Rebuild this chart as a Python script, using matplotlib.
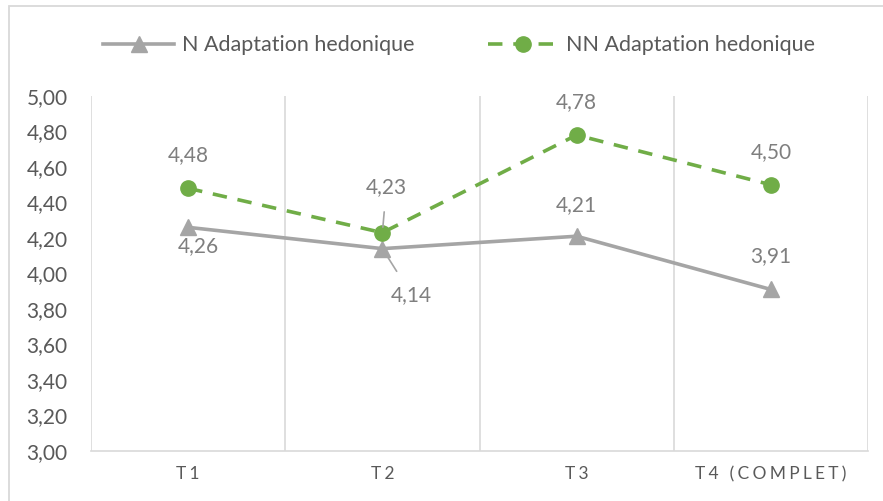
import matplotlib.pyplot as plt
from matplotlib.lines import Line2D
from matplotlib.patches import Rectangle

plt.rcParams['font.family'] = ['Lato', 'DejaVu Sans']

categories = ['T1', 'T2', 'T3', 'T4 (COMPLET)']
n_values = [4.26, 4.14, 4.21, 3.91]
nn_values = [4.48, 4.23, 4.78, 4.50]
y_ticks = [3.0, 3.2, 3.4, 3.6, 3.8, 4.0, 4.2, 4.4, 4.6, 4.8, 5.0]

grey = '#A5A5A5'
green = '#70AD47'
text_col = '#595959'
label_col = '#7F7F7F'
grid_col = '#D9D9D9'


def spaced(s):
    # imitate the letter spacing of the category axis
    return '\u2009\u200a'.join(s)


def fmt(v):
    return '{:.2f}'.format(v).replace('.', ',')


fig = plt.figure(figsize=(8.83, 5.01), dpi=100)
ax = fig.add_axes([0.1031, 0.0998, 0.8799, 0.7086])

# outer chart frame
fig.patches.append(Rectangle((9 / 883, -0.05), 1.2, 1 - 6 / 501 + 0.05,
                             transform=fig.transFigure, fill=False,
                             edgecolor=grid_col, linewidth=1.3))

x = list(range(len(categories)))
ax.plot(x, n_values, color=grey, linewidth=2.6, marker='^', markersize=12,
        markerfacecolor=grey, markeredgecolor=grey, zorder=3)
ax.plot(x, nn_values, color=green, linewidth=2.6, linestyle=(0, (4, 3)),
        marker='o', markersize=11, markerfacecolor=green,
        markeredgecolor=green, zorder=4)

ax.set_xlim(-0.5, len(categories) - 0.5)
ax.set_ylim(3.0, 5.0)
ax.set_yticks(y_ticks)
ax.set_yticklabels([fmt(v) for v in y_ticks], fontsize=15, color=text_col)
ax.set_xticks(x)
ax.set_xticklabels([spaced(c) for c in categories], fontsize=12.5, color=text_col)
ax.tick_params(axis='both', length=0)
ax.tick_params(axis='y', pad=17)
ax.tick_params(axis='x', pad=11)

# vertical separators between categories
for b in [i - 0.5 for i in range(len(categories) + 1)]:
    ax.axvline(b, color=grid_col, linewidth=1.2, zorder=1)

for side in ['top', 'left', 'right']:
    ax.spines[side].set_visible(False)
ax.spines['bottom'].set_color(grid_col)
ax.spines['bottom'].set_linewidth(1.2)

# data labels (offsets in points)
px = 0.72
n_offsets = [(10, -19), (29, -46), (0, 31), (0, 33)]
nn_offsets = [(0, 33), (4, 46), (0, 33), (0, 33)]
leaders_n = [False, True, False, False]
leaders_nn = [False, True, False, False]

for vals, offs, leads in [(n_values, n_offsets, leaders_n),
                          (nn_values, nn_offsets, leaders_nn)]:
    for i, v in enumerate(vals):
        dx, dy = offs[i]
        props = None
        if leads[i]:
            props = dict(arrowstyle='-', color='#A5A5A5', linewidth=1.2,
                         shrinkA=9, shrinkB=4)
        ax.annotate(fmt(v), xy=(i, v), xytext=(dx * px, dy * px),
                    textcoords='offset points', ha='center', va='center',
                    fontsize=15, color=label_col, arrowprops=props, zorder=5)

handles = [
    Line2D([], [], color=grey, linewidth=2.6, marker='^', markersize=12),
    Line2D([], [], color=green, linewidth=2.6, linestyle=(0, (4, 3)),
           marker='o', markersize=11),
]
leg = fig.legend(handles, ['N Adaptation hedonique', 'NN Adaptation hedonique'],
                 loc='center', bbox_to_anchor=(0.52, 0.91), ncol=2,
                 frameon=False, fontsize=15.5, handlelength=3.3,
                 columnspacing=3.4, handletextpad=0.35)
for t in leg.get_texts():
    t.set_color(text_col)

fig.savefig('out.png', dpi=100)
